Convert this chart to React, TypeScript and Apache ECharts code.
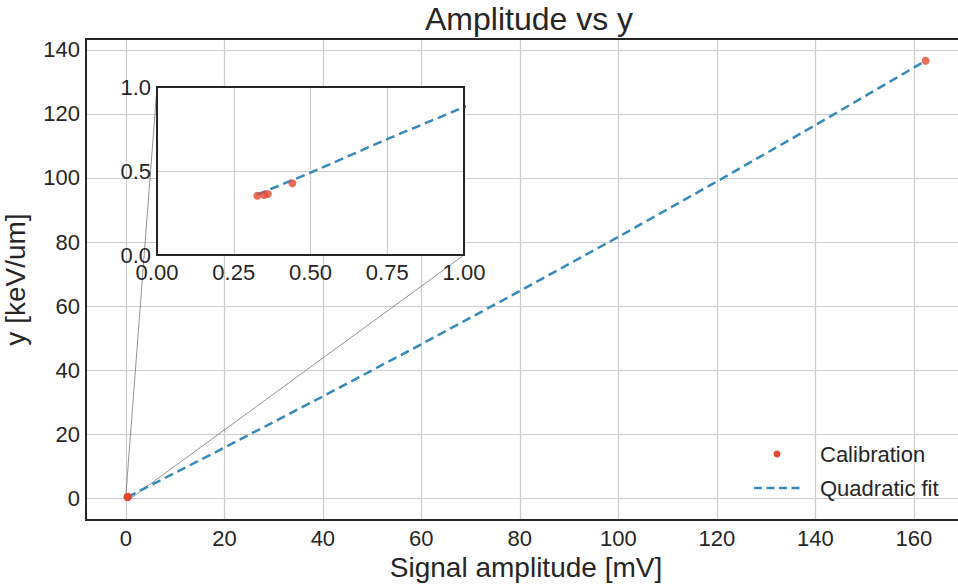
import React, { useEffect, useRef } from "react";
import * as echarts from "echarts";

const calibX = [0.327, 0.349, 0.361, 0.441, 162.4];
const calibY = [0.353, 0.357, 0.363, 0.427, 136.6];
const fitX = [0.327, 0.5, 0.75, 1.0, 20, 40, 60, 80, 100, 120, 140, 162.4];
const fitY = [0.36, 0.49, 0.69, 0.88, 15.8, 31.8, 48.1, 64.7, 81.6, 98.9, 116.5, 136.6];
const seriesNames = ["Calibration", "Quadratic fit"];
const titleText = "Amplitude vs y";
const xName = "Signal amplitude [mV]";
const yName = "y [keV/um]";
const mainX = [-8.1, 170.6];
const mainY = [-6.8, 143.4];
const insetRange = [0, 1];

const RED = "#E24A33";
const BLUE = "#348ABD";
const TXT = "#262626";
const GRIDC = "#cccccc";
const FONT = "Liberation Sans";

export default function App() {
  const ref = useRef<HTMLDivElement>(null);
  useEffect(() => {
    if (!ref.current) return;
    const chart = echarts.init(ref.current, undefined, { renderer: "svg" });
    const calib = calibX.map((x, i) => [x, calibY[i]]);
    const fit = fitX.map((x, i) => [x, fitY[i]]);
    const axisCommon = {
      axisLine: { show: false },
      axisTick: { show: false },
      splitLine: { show: true, lineStyle: { color: GRIDC, width: 1.2 } },
    };
    chart.setOption({
      animation: false,
      backgroundColor: "#ffffff",
      textStyle: { fontFamily: FONT },
      title: {
        text: titleText,
        left: 524,
        textAlign: "center",
        top: 0,
        textStyle: { fontSize: 32, lineHeight: 28, fontWeight: "normal", color: TXT, fontFamily: FONT },
      },
      grid: [
        {
          left: 86, top: 39, width: 880, height: 481, outerBoundsMode: "none",
          show: true, borderWidth: 0, backgroundColor: "#ffffff",
          containLabel: false,
        },
        {
          left: 157, top: 87, width: 307, height: 168, z: 5, outerBoundsMode: "none",
          show: true, borderWidth: 0, backgroundColor: "#ffffff",
          containLabel: false,
        },
      ],
      xAxis: [
        {
          ...axisCommon,
          type: "value", gridIndex: 0, min: mainX[0], max: mainX[1], splitNumber: 9,
          axisLabel: { showMinLabel: false, showMaxLabel: false, fontSize: 22, color: TXT, margin: 7, fontFamily: FONT },
          name: xName, nameLocation: "middle", nameGap: 32,
          nameTextStyle: { fontSize: 28, color: TXT, fontFamily: FONT },
        },
        {
          ...axisCommon,
          type: "value", gridIndex: 1, min: insetRange[0], max: insetRange[1], interval: 0.25, z: 5,
          axisLabel: { fontSize: 22, color: TXT, margin: 6, fontFamily: FONT, formatter: (v: number) => v.toFixed(2) },
        },
      ],
      yAxis: [
        {
          ...axisCommon,
          type: "value", gridIndex: 0, min: mainY[0], max: mainY[1], splitNumber: 8,
          axisLabel: { showMinLabel: false, showMaxLabel: false, fontSize: 22, color: TXT, margin: 6, fontFamily: FONT },
          name: yName, nameLocation: "middle", nameGap: 57,
          nameTextStyle: { fontSize: 28, color: TXT, fontFamily: FONT },
        },
        {
          ...axisCommon,
          type: "value", gridIndex: 1, min: insetRange[0], max: insetRange[1], interval: 0.5, z: 5,
          axisLabel: { fontSize: 22, color: TXT, margin: 6, fontFamily: FONT, formatter: (v: number) => v.toFixed(1) },
        },
      ],
      series: [
        {
          name: seriesNames[1], type: "line", xAxisIndex: 0, yAxisIndex: 0, data: fit,
          showSymbol: false, symbol: "none", z: 3,
          lineStyle: { color: BLUE, width: 2.5, type: [9, 5] },
        },
        {
          name: seriesNames[0], type: "scatter", xAxisIndex: 0, yAxisIndex: 0, data: calib,
          symbolSize: 8, itemStyle: { color: RED }, z: 4,
        },
        {
          name: seriesNames[1] + " inset", type: "line", xAxisIndex: 1, yAxisIndex: 1, data: fit,
          showSymbol: false, symbol: "none", z: 7, clip: true,
          lineStyle: { color: BLUE, width: 2.5, type: [9, 5] },
        },
        {
          name: seriesNames[0] + " inset", type: "scatter", xAxisIndex: 1, yAxisIndex: 1, data: calib,
          symbolSize: 8, itemStyle: { color: RED }, z: 8,
        },
      ],
    });

    const px = (g: number, v: number[]) => chart.convertToPixel({ gridIndex: g }, v) as number[];
    const p00 = px(0, [0, 0]);
    const p11 = px(0, [1, 1]);
    const p01 = px(0, [0, 1]);
    const p10 = px(0, [1, 0]);
    const i01 = px(1, [0, 1]);
    const i10 = px(1, [1, 0]);
    const mTL = px(0, [mainX[0], mainY[1]]);
    const mBR = px(0, [mainX[1], mainY[0]]);
    const conn = { stroke: "#666666", lineWidth: 0.7 };
    const border = { fill: "none", stroke: TXT, lineWidth: 2 };
    const legX = 754, legW = 46, legTextX = 820;
    chart.setOption({
      graphic: [
        {
          type: "rect", z: 4,
          shape: { x: mTL[0], y: mTL[1], width: mBR[0] - mTL[0], height: mBR[1] - mTL[1] },
          style: border,
        },
        {
          type: "rect", z: 9,
          shape: { x: i01[0], y: i01[1], width: i10[0] - i01[0], height: i10[1] - i01[1] },
          style: border,
        },
        { type: "line", z: 3, shape: { x1: i01[0], y1: i01[1], x2: p01[0], y2: p01[1] }, style: conn },
        { type: "line", z: 3, shape: { x1: i10[0], y1: i10[1], x2: p10[0], y2: p10[1] }, style: conn },
        {
          type: "polygon", z: 3,
          shape: { points: [[p00[0], p00[1]], [p10[0], p10[1]], [p11[0], p11[1]], [p01[0], p01[1]]] },
          style: { fill: "none", stroke: "#666666", lineWidth: 0.7 },
        },
        { type: "circle", z: 10, shape: { cx: legX + legW / 2, cy: 454, r: 3.5 }, style: { fill: RED } },
        {
          type: "text", z: 10, x: legTextX, y: 454,
          style: { text: seriesNames[0], fontSize: 22, fill: TXT, fontFamily: FONT, verticalAlign: "middle" },
        },
        {
          type: "line", z: 10, shape: { x1: legX, y1: 488, x2: legX + legW, y2: 488 },
          style: { stroke: BLUE, lineWidth: 2.5, lineDash: [8, 4.5] },
        },
        {
          type: "text", z: 10, x: legTextX, y: 488,
          style: { text: seriesNames[1], fontSize: 22, fill: TXT, fontFamily: FONT, verticalAlign: "middle" },
        },
      ],
    });
    return () => chart.dispose();
  }, []);
  return <div ref={ref} style={{ width: 958, height: 585, position: "absolute", left: 0, top: 0 }} />;
}
